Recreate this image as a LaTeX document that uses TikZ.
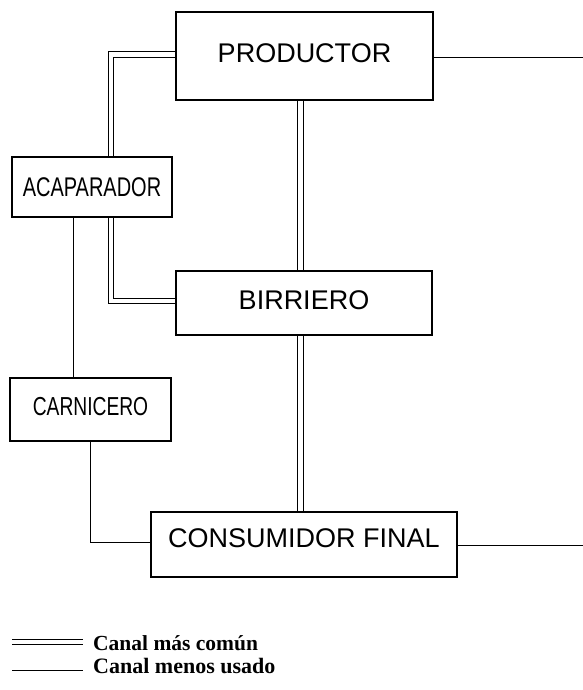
\documentclass[tikz,border=0pt]{standalone}
\usepackage{fontspec}
\setmainfont{Liberation Sans}
\newfontfamily\narrowsans[FakeStretch=0.74]{Liberation Sans}
\newfontfamily\legendserif{Liberation Serif}
\usetikzlibrary{backgrounds}
\begin{document}
\begin{tikzpicture}[x=1pt,y=-1pt,
  box/.style={draw, line width=1.3pt, fill=white, inner sep=0pt, font=\fontsize{27}{30}\selectfont},
  nbox/.style={box, font=\narrowsans\fontsize{27}{30}\selectfont},
  sgl/.style={line width=1pt},
  legtext/.style={anchor=base west, inner sep=0pt, font=\legendserif\bfseries\fontsize{21.5}{24}\selectfont}
]
\useasboundingbox (0,0) rectangle (583,690);

\node[box, minimum width=257pt, minimum height=88pt, text depth=6pt] (prod) at (304.5,56) {PRODUCTOR};
\node[nbox, minimum width=160pt, minimum height=60pt] (acap) at (92,187) {ACAPARADOR};
\node[box, minimum width=256pt, minimum height=64pt, text depth=5pt] (birr) at (304,303) {BIRRIERO};
\node[nbox, font=\narrowsans\fontsize{26}{29}\selectfont, minimum width=161pt, minimum height=63pt, text depth=7pt] (carn) at (90.5,409.5) {CARNICERO};
\node[box, minimum width=306pt, minimum height=65pt, text depth=13pt] (cons) at (304,544.5) {CONSUMIDOR FINAL};

\coordinate (pout) at (583,58);
\coordinate (cout) at (583,545);

\begin{scope}[on background layer]
  % double channel: productor - acaparador
  \draw[sgl] ([yshift=4pt]prod.west) -| ([xshift=16pt]acap.north);
  \draw[sgl] ([yshift=-2pt]prod.west) -| ([xshift=21pt]acap.north);
  % double channel: acaparador - birriero
  \draw[sgl] ([xshift=16pt]acap.south) |- (birr.west);
  \draw[sgl] ([xshift=21pt]acap.south) |- ([yshift=5pt]birr.west);
  % double channel: productor - birriero
  \draw[sgl] ([xshift=-7.5pt]prod.south) -- ([xshift=-7.5pt]prod.south |- birr.north);
  \draw[sgl] ([xshift=-1pt]prod.south) -- ([xshift=-1pt]prod.south |- birr.north);
  % double channel: birriero - consumidor
  \draw[sgl] ([xshift=-7pt]birr.south) -- ([xshift=-7pt]birr.south |- cons.north);
  \draw[sgl] ([xshift=-0.5pt]birr.south) -- ([xshift=-0.5pt]birr.south |- cons.north);
  % single channels
  \draw[sgl] ([xshift=-19pt]acap.south) -- ([xshift=-19pt]acap.south |- carn.north);
  \draw[sgl] (carn.south) |- ([yshift=2.5pt]cons.west);
  \draw[sgl] ([yshift=-2pt]prod.east) -- (pout);
  \draw[sgl] ([yshift=-0.5pt]cons.east) -- (cout);
\end{scope}

% legend
\coordinate (l1a) at (12,639);
\coordinate (l1b) at (83,639);
\coordinate (l1c) at (12,644);
\coordinate (l1d) at (83,644);
\coordinate (l2a) at (12,670);
\coordinate (l2b) at (83,670);
\draw[sgl] (l1a) -- (l1b);
\draw[sgl] (l1c) -- (l1d);
\draw[sgl] (l2a) -- (l2b);
\node[legtext] (t1) at (93,650) {Canal más común};
\node[legtext, font=\legendserif\bfseries\fontsize{22}{24}\selectfont] (t2) at (93,673) {Canal menos usado};
\end{tikzpicture}
\end{document}
